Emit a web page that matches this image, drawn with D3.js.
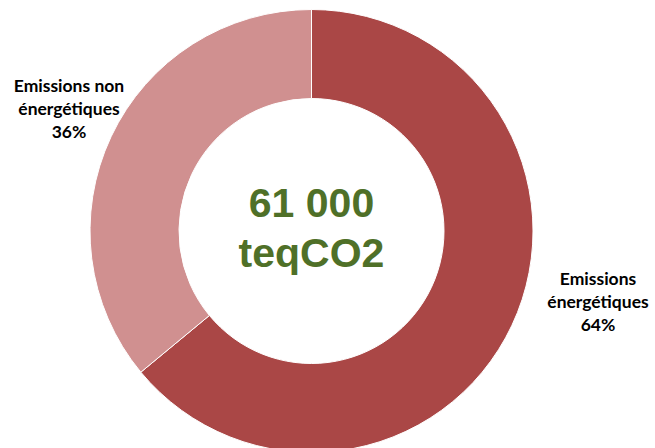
<!DOCTYPE html>
<html>
<head>
<meta charset="utf-8">
<script src="https://cdn.jsdelivr.net/npm/d3@7"></script>
<style>
  html, body { margin: 0; padding: 0; background: #fff; }
  svg { display: block; }
</style>
</head>
<body>
<svg id="chart" width="655" height="448"></svg>
<script>
const categories = ["Emissions énergétiques", "Emissions non énergétiques"];
const labelLines = [["Emissions", "énergétiques", "64%"], ["Emissions non", "énergétiques", "36%"]];
const values = [64, 36];
const colors = ["#AA4746", "#D09090"];
const centerLines = ["61 000", "teqCO2"];

const svg = d3.select("#chart");
const cx = 311.5, cy = 231, rOuter = 221.5, rInner = 132.5;

const pie = d3.pie().sort(null).value(d => d)(values);
const arc = d3.arc().innerRadius(rInner).outerRadius(rOuter);

const g = svg.append("g").attr("transform", `translate(${cx},${cy})`);
g.selectAll("path").data(pie).join("path")
  .attr("d", arc)
  .attr("fill", (d, i) => colors[i])
  .attr("stroke", "#fff")
  .attr("stroke-width", 1);

// center text
svg.selectAll("text.center").data(centerLines).join("text")
  .attr("class", "center")
  .attr("x", cx)
  .attr("y", (d, i) => cy - 14 + i * 50)
  .attr("text-anchor", "middle")
  .attr("font-family", "Liberation Sans, Arial, sans-serif")
  .attr("font-weight", "bold")
  .attr("font-size", 41)
  .attr("fill", "#4F7028")
  .text(d => d);

// labels
const labelPos = [[598, 285], [69, 92]];
labelLines.forEach((lines, i) => {
  const t = svg.append("text")
    .attr("text-anchor", "middle")
    .attr("font-family", "Lato, Carlito, sans-serif")
    .attr("font-weight", "bold")
    .attr("font-size", 17.5)
    .attr("fill", "#000");
  lines.forEach((l, j) => {
    t.append("tspan").attr("x", labelPos[i][0]).attr("y", labelPos[i][1] + j * 23).text(l);
  });
});
</script>
</body>
</html>
